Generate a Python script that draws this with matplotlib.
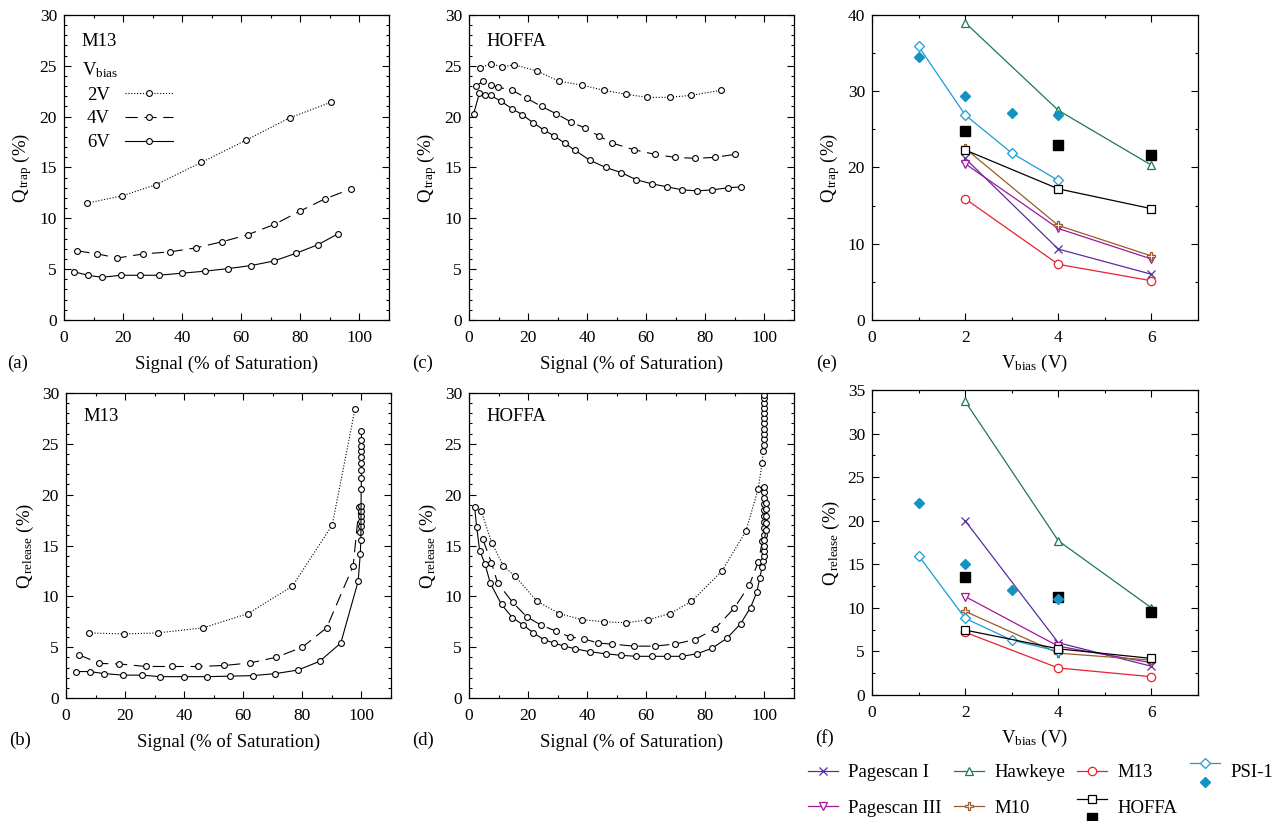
import numpy as np
import matplotlib
matplotlib.use("Agg")
import matplotlib.pyplot as plt
from matplotlib.lines import Line2D
from matplotlib.legend_handler import HandlerBase
from matplotlib.ticker import MultipleLocator

plt.rcParams['font.family'] = ['Liberation Serif', 'DejaVu Serif']
plt.rcParams['mathtext.fontset'] = 'custom'
plt.rcParams['mathtext.rm'] = 'Liberation Serif'
plt.rcParams['mathtext.it'] = 'Liberation Serif:italic'
plt.rcParams['font.size'] = 12.5

# ---------------- data: M13 trap (a) ----------------
a_x_2v = [7.8, 19.6, 31.0, 46.5, 61.7, 76.5, 90.2]
a_y_2v = [11.5, 12.2, 13.3, 15.5, 17.7, 19.9, 21.4]
a_x_4v = [4.5, 11.3, 18.1, 26.9, 35.9, 44.7, 53.6, 62.3, 71.2, 79.8, 88.2, 97.2]
a_y_4v = [6.8, 6.5, 6.1, 6.5, 6.7, 7.1, 7.7, 8.4, 9.4, 10.7, 11.9, 12.9]
a_x_6v = [3.3, 8.1, 12.9, 19.2, 25.6, 32.0, 39.8, 47.6, 55.4, 63.2, 71.0, 78.4, 85.9, 92.9]
a_y_6v = [4.75, 4.4, 4.2, 4.4, 4.4, 4.4, 4.6, 4.8, 5.05, 5.35, 5.8, 6.55, 7.4, 8.5]

# ---------------- M13 release (b) ----------------
b_x_2v = [7.7, 19.5, 31.0, 46.4, 61.6, 76.6, 90.1, 97.8]
b_y_2v = [6.4, 6.3, 6.4, 6.9, 8.3, 11.0, 17.0, 28.4]
b_x_4v = [4.4, 11.3, 18.0, 27.0, 35.8, 44.6, 53.6, 62.3, 71.1, 80.0, 88.2, 97.2,
          99.2, 99.6, 99.8, 99.9, 100.0, 100.0, 100.0]
b_y_4v = [4.25, 3.4, 3.35, 3.1, 3.1, 3.1, 3.2, 3.45, 4.0, 5.0, 6.9, 13.0,
          18.8, 16.3, 16.9, 17.4, 17.9, 18.4, 18.9]
b_x_6v = [3.3, 8.0, 12.9, 19.3, 25.6, 31.9, 39.8, 47.7, 55.5, 63.2, 70.9, 78.5, 85.8, 93.0,
          98.9, 99.6, 99.8, 99.9, 100.0, 100.0, 100.0, 100.0, 100.0, 100.0, 100.0, 100.0]
b_y_6v = [2.6, 2.6, 2.4, 2.25, 2.25, 2.1, 2.1, 2.1, 2.15, 2.2, 2.4, 2.75, 3.6, 5.4,
          11.5, 14.2, 15.5, 20.6, 21.6, 22.4, 23.1, 23.7, 24.3, 24.8, 25.4, 26.3]

# ---------------- HOFFA trap (c) ----------------
c_x_2v = [3.6, 7.4, 11.2, 15.3, 22.9, 30.4, 38.2, 45.6, 53.2, 60.4, 67.9, 75.2, 85.4]
c_y_2v = [24.8, 25.2, 24.9, 25.1, 24.5, 23.5, 23.1, 22.6, 22.2, 21.9, 21.9, 22.1, 22.6]
c_x_4v = [2.3, 4.8, 7.3, 9.8, 14.6, 19.6, 24.6, 29.4, 34.4, 39.1, 44.0, 48.5, 55.8, 62.8,
          69.6, 76.6, 83.4, 90.1]
c_y_4v = [23.0, 23.5, 23.1, 22.9, 22.6, 21.8, 21.0, 20.3, 19.5, 18.9, 18.1, 17.4, 16.75, 16.3,
          16.0, 15.9, 16.0, 16.3]
c_x_6v = [1.6, 3.5, 5.4, 7.3, 10.9, 14.5, 18.0, 21.7, 25.3, 28.8, 32.4, 35.8, 41.0, 46.3,
          51.5, 56.6, 61.8, 67.0, 72.2, 77.3, 82.4, 87.5, 92.2]
c_y_6v = [20.3, 22.3, 22.1, 22.1, 21.5, 20.8, 20.2, 19.4, 18.7, 18.1, 17.4, 16.7, 15.7, 15.0,
          14.5, 13.8, 13.4, 13.1, 12.8, 12.7, 12.8, 13.0, 13.1]

# ---------------- HOFFA release (d) ----------------
d_x_2v = [4.1, 7.8, 11.6, 15.5, 23.1, 30.6, 38.2, 45.8, 53.3, 60.7, 68.0, 75.3, 85.5, 93.7,
          97.9, 99.2, 99.6, 99.8, 99.9, 100.0, 100.0, 100.0, 100.0, 100.0, 100.0, 100.0, 100.0, 100.0]
d_y_2v = [18.4, 15.2, 13.0, 12.0, 9.5, 8.3, 7.7, 7.5, 7.4, 7.7, 8.3, 9.5, 12.45, 16.4,
          20.6, 23.1, 24.3, 24.9, 25.5, 26.0, 26.5, 27.0, 27.5, 28.0, 28.5, 29.0, 29.5, 29.8]
d_x_4v = [4.7, 7.6, 9.7, 14.8, 19.5, 24.5, 29.3, 34.2, 39.0, 43.8, 48.5, 55.8, 62.8, 69.6,
          76.5, 83.2, 89.8, 94.9, 97.9, 99.3, 99.7, 99.8, 99.9, 100.0, 100.0, 100.0, 100.0,
          100.0, 100.0]
d_y_4v = [15.6, 13.3, 11.3, 9.4, 8.0, 7.15, 6.6, 6.0, 5.8, 5.4, 5.3, 5.1, 5.1, 5.3,
          5.75, 6.8, 8.85, 11.1, 13.4, 15.4, 16.0, 16.7, 17.3, 17.9, 18.5, 19.1, 19.7,
          20.3, 20.8]
d_x_6v = [1.9, 2.6, 3.6, 5.4, 7.2, 11.0, 14.7, 18.3, 21.8, 25.3, 28.8, 32.3, 35.8, 40.9,
          46.2, 51.4, 56.5, 61.8, 67.0, 72.1, 77.2, 82.3, 87.4, 91.9, 95.3, 97.4, 98.4, 99.2,
          99.6, 100.0, 100.0, 100.0, 100.0, 100.4, 100.4, 100.4, 100.4, 100.4]
d_y_6v = [18.8, 16.8, 14.5, 13.2, 11.3, 9.2, 7.9, 7.2, 6.4, 5.75, 5.4, 5.1, 4.85, 4.55,
          4.35, 4.2, 4.1, 4.1, 4.1, 4.1, 4.35, 4.9, 5.9, 7.3, 8.9, 10.4, 11.8, 12.85,
          13.5, 14.0, 14.5, 15.0, 15.5, 16.5, 17.2, 17.9, 18.6, 19.2]

# ---------------- Q vs Vbias (e, f) ----------------
vb = [2, 4, 6]
vb_psi = [1, 2, 3, 4]
e_pagescan1 = [21.2, 9.3, 6.0]
e_hawkeye = [39.0, 27.5, 20.3]
e_m13 = [15.9, 7.3, 5.15]
e_pagescan3 = [20.5, 12.0, 8.0]
e_m10 = [22.5, 12.4, 8.4]
e_hoffa = [22.3, 17.2, 14.6]
e_hoffa_filled = [24.8, 22.9, 21.6]
e_psi = [35.9, 26.9, 21.9, 18.3]
e_psi_filled = [34.5, 29.4, 27.1, 26.9]

f_pagescan1 = [20.0, 6.0, 3.3]
f_hawkeye = [33.7, 17.7, 10.0]
f_m13 = [7.2, 3.1, 2.1]
f_pagescan3 = [11.3, 5.6, 3.7]
f_m10 = [9.6, 4.8, 4.0]
f_hoffa = [7.45, 5.3, 4.2]
f_hoffa_filled = [13.5, 11.3, 9.5]
f_psi = [16.0, 8.8, 6.3, 5.0]
f_psi_filled = [22.0, 15.0, 12.0, 11.0]

C_P1 = '#5a2ca0'
C_HAWK = '#1b7a4f'
C_M13 = '#e8202f'
C_P3 = '#a0169c'
C_M10 = '#9a5a2a'
C_PSI = '#1c9bd4'
C_PSIF = '#1592bf'

fig = plt.figure(figsize=(12.83, 8.21), dpi=100)
W, H = 1283.0, 821.0


def add_ax(l, t, r, b):
    return fig.add_axes([l / W, 1 - b / H, (r - l) / W, (b - t) / H])


def style(ax, xmax, xmaj, xmin, ymax, ymaj, ymin):
    ax.xaxis.set_major_locator(MultipleLocator(xmaj))
    ax.xaxis.set_minor_locator(MultipleLocator(xmin))
    ax.yaxis.set_major_locator(MultipleLocator(ymaj))
    ax.yaxis.set_minor_locator(MultipleLocator(ymin))
    ax.set_xticks(np.arange(0, xmax - 1e-9, xmaj))
    ax.set_xlim(0, xmax)
    ax.set_ylim(0, ymax)
    ax.tick_params(which='both', direction='in', top=True, right=True, width=0.8)
    ax.tick_params(which='major', length=5, labelsize=12.5)
    ax.tick_params(axis='x', which='major', pad=7)
    ax.tick_params(axis='y', which='major', pad=5)
    ax.tick_params(which='minor', length=2.5)
    for s in ax.spines.values():
        s.set_linewidth(0.9)


DOT = (0, (1, 1.6))
DASH = (0, (11, 6))
mk = dict(marker='o', ms=4.2, mfc='white', mec='black', mew=0.8, color='black', lw=0.8)

ax_a = add_ax(64, 15, 389, 320)
ax_b = add_ax(66, 393, 391, 698)
ax_c = add_ax(469, 15, 794, 320)
ax_d = add_ax(469, 393, 794, 698)
ax_e = add_ax(872, 15, 1198, 320)
ax_f = add_ax(872, 390, 1198, 695)

sig_sets = [
    (ax_a, a_x_2v, a_y_2v, a_x_4v, a_y_4v, a_x_6v, a_y_6v),
    (ax_b, b_x_2v, b_y_2v, b_x_4v, b_y_4v, b_x_6v, b_y_6v),
    (ax_c, c_x_2v, c_y_2v, c_x_4v, c_y_4v, c_x_6v, c_y_6v),
    (ax_d, d_x_2v, d_y_2v, d_x_4v, d_y_4v, d_x_6v, d_y_6v),
]
for ax, x2, y2, x4, y4, x6, y6 in sig_sets:
    ax.plot(x2, y2, ls=DOT, label='2V', **mk)
    ax.plot(x4, y4, ls=DASH, label='4V', **mk)
    ax.plot(x6, y6, ls='-', label='6V', **mk)
    style(ax, 110, 20, 10, 30, 5, 1)

ax_a.set_ylabel(r'Q$_{\,\mathrm{trap}}$ (%)', fontsize=13.5)
ax_c.set_ylabel(r'Q$_{\,\mathrm{trap}}$ (%)', fontsize=13.5)
ax_b.set_ylabel(r'Q$_{\,\mathrm{release}}$ (%)', fontsize=13.5)
ax_d.set_ylabel(r'Q$_{\,\mathrm{release}}$ (%)', fontsize=13.5)
for ax in (ax_a, ax_b, ax_c, ax_d):
    ax.set_xlabel('Signal (% of Saturation)', fontsize=13.5, labelpad=7)

ax_a.text(0.055, 0.94, 'M13', transform=ax_a.transAxes, va='top', fontsize=13.5)
ax_a.text(0.055, 0.85, r'V$_{\mathrm{bias}}$', transform=ax_a.transAxes, va='top', fontsize=13.5)
ax_b.text(0.055, 0.95, 'M13', transform=ax_b.transAxes, va='top', fontsize=13.5)
ax_c.text(0.055, 0.94, 'HOFFA', transform=ax_c.transAxes, va='top', fontsize=13.5)
ax_d.text(0.055, 0.95, 'HOFFA', transform=ax_d.transAxes, va='top', fontsize=13.5)
ax_a.legend(loc='upper left', bbox_to_anchor=(0.07, 0.765), markerfirst=False, frameon=False,
            handlelength=2.6, handletextpad=0.8, labelspacing=0.35, numpoints=1,
            fontsize=13.5, borderpad=0, borderaxespad=0)

# ---- panels e and f ----
lk = dict(lw=0.9, ms=6, mew=0.9, mfc='white')


def vplot(ax, p1, hk, m13, p3, m10, hof, hoff, psi, psif):
    h = {}
    h['Pagescan I'] = ax.plot(vb, p1, color=C_P1, marker='x', mec=C_P1, **lk)[0]
    h['Hawkeye'] = ax.plot(vb, hk, color=C_HAWK, marker='^', mec=C_HAWK, **lk)[0]
    h['M13'] = ax.plot(vb, m13, color=C_M13, marker='o', mec=C_M13, **lk)[0]
    h['Pagescan III'] = ax.plot(vb, p3, color=C_P3, marker='v', mec=C_P3, **lk)[0]
    h['M10'] = ax.plot(vb, m10, color=C_M10, marker='P', mec=C_M10, **lk)[0]
    h['HOFFA'] = ax.plot(vb, hof, color='black', marker='s', mec='black', zorder=3, **lk)[0]
    h['HOFFAf'] = ax.plot(vb, hoff, ls='', marker='s', ms=6.5, color='black')[0]
    h['PSI-1'] = ax.plot(vb_psi, psi, color=C_PSI, marker='D', mec=C_PSI, lw=0.9, ms=5, mew=0.9, mfc='white')[0]
    h['PSI-1f'] = ax.plot(vb_psi, psif, ls='', marker='D', ms=5.5, color=C_PSIF)[0]
    return h


vplot(ax_e, e_pagescan1, e_hawkeye, e_m13, e_pagescan3, e_m10, e_hoffa, e_hoffa_filled, e_psi, e_psi_filled)
hf = vplot(ax_f, f_pagescan1, f_hawkeye, f_m13, f_pagescan3, f_m10, f_hoffa, f_hoffa_filled, f_psi, f_psi_filled)
style(ax_e, 7, 2, 1, 40, 10, 5)
style(ax_f, 7, 2, 1, 35, 5, 2.5)
ax_e.set_ylabel(r'Q$_{\,\mathrm{trap}}$ (%)', fontsize=13.5)
ax_f.set_ylabel(r'Q$_{\,\mathrm{release}}$ (%)', fontsize=13.5)
ax_e.set_xlabel(r'V$_{\mathrm{bias}}$ (V)', fontsize=13.5, labelpad=5)
ax_f.set_xlabel(r'V$_{\mathrm{bias}}$ (V)', fontsize=13.5, labelpad=5)

for lab, x, y in [('(a)', 7, 363), ('(b)', 9, 740), ('(c)', 412, 363), ('(d)', 412, 740),
                  ('(e)', 816, 363), ('(f)', 815, 738)]:
    fig.text(x / W, 1 - y / H, lab, va='center', ha='left', fontsize=13.5)


class StackHandler(HandlerBase):
    def create_artists(self, legend, orig_handle, xdescent, ydescent, width, height, fontsize, trans):
        op, fl = orig_handle
        xs = [-xdescent, width - xdescent]
        xm = 0.5 * width - xdescent
        yt = height * 1.05 - ydescent
        yb = -height * 0.35 - ydescent
        ln = Line2D(xs, [yt, yt], color=op.get_color(), lw=op.get_linewidth())
        m1 = Line2D([xm], [yt], ls='', marker=op.get_marker(), ms=op.get_markersize(),
                    mfc='white', mec=op.get_markeredgecolor(), mew=op.get_markeredgewidth())
        m2 = Line2D([xm], [yb], ls='', marker=fl.get_marker(), ms=fl.get_markersize(),
                    color=fl.get_color())
        for art in (ln, m1, m2):
            art.set_transform(trans)
        return [ln, m1, m2]


order = ['Pagescan I', 'Pagescan III', 'Hawkeye', 'M10', 'M13', 'HOFFA', 'PSI-1']
handles = []
for k in order:
    if k in ('HOFFA', 'PSI-1'):
        handles.append((hf[k], hf[k + 'f']))
    else:
        handles.append(hf[k])
fig.legend(handles, order, loc='upper left', bbox_to_anchor=(808 / W, 1 - 764 / H), ncol=4,
           frameon=False, handlelength=1.6, handletextpad=0.55, columnspacing=0.65,
           labelspacing=1.0, fontsize=13.5, borderpad=0, borderaxespad=0, numpoints=1,
           handler_map={tuple: StackHandler()})

fig.savefig('out.png', dpi=100)
